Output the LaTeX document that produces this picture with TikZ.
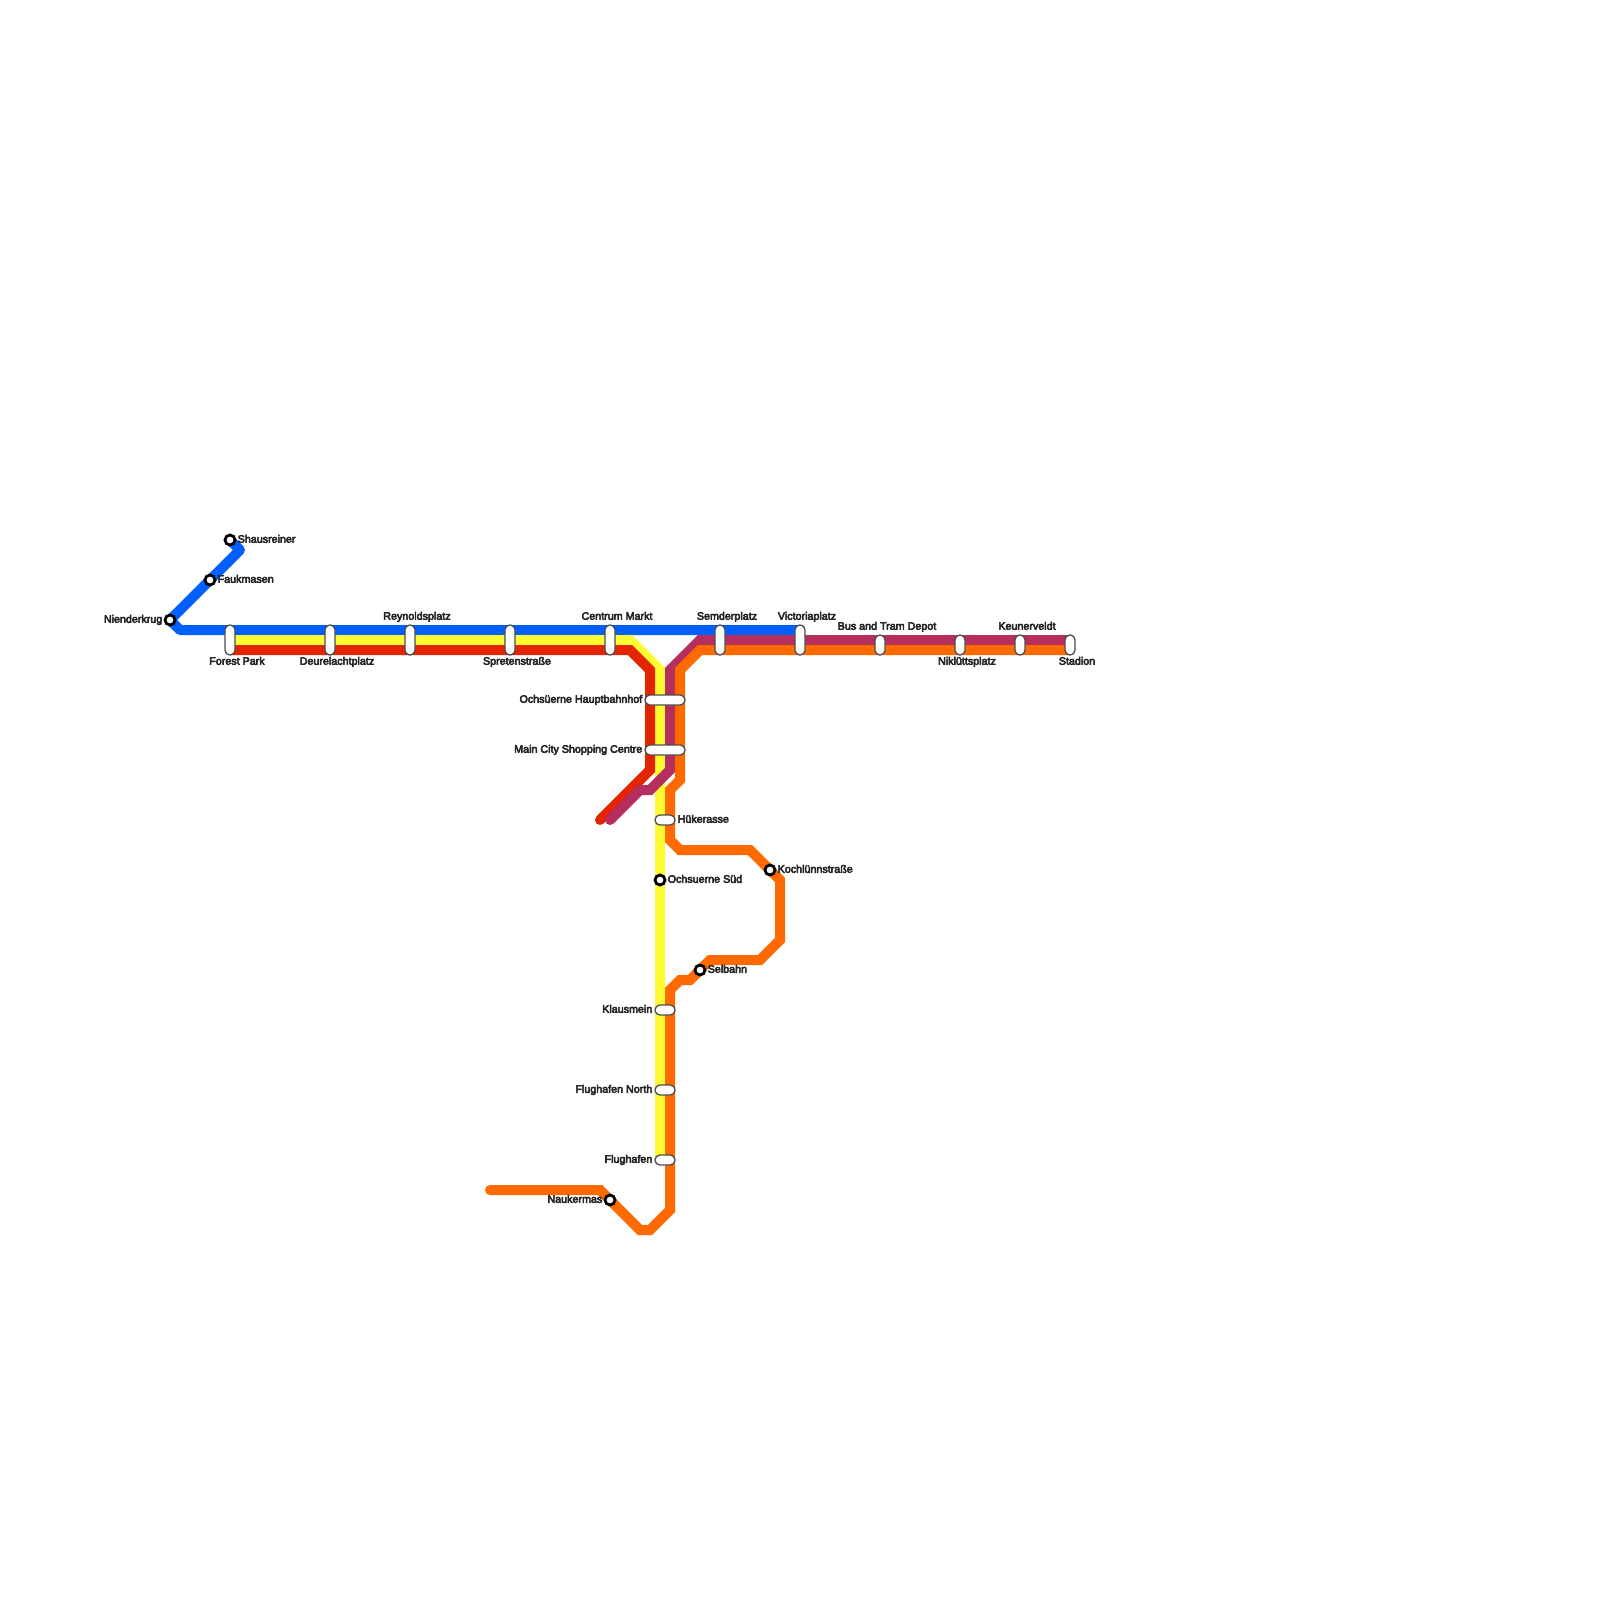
\documentclass[tikz,border=0pt]{standalone}
\usepackage{fontspec}
\newfontfamily\stopfont[FakeBold=5]{Liberation Sans}

\definecolor{blueline}{HTML}{005FFF}
\definecolor{yellowline}{HTML}{FFFB33}
\definecolor{redline}{HTML}{E32400}
\definecolor{purpleline}{HTML}{B52E5E}
\definecolor{orangeline}{HTML}{FF6A00}

\tikzset{
  railline/.style={line width=1mm, line cap=round, miter limit=10},
  pill/.style={draw=black!70, fill=white, line width=0.13mm, rounded corners=0.48mm, inner sep=0pt, outer sep=0pt},
  ring/.style={circle, draw=black, fill=white, line width=0.28mm, minimum size=1mm, inner sep=0pt, outer sep=0pt},
  stoptext/.style={font=\stopfont\fontsize{3.05}{3.6}\selectfont, text=black!85, inner sep=0pt, text height=2.2pt, text depth=0.65pt},
  toleft/.style={stoptext, anchor=east},
  toright/.style={stoptext, anchor=west}
}

\begin{document}
\begin{tikzpicture}[x=1mm, y=-1mm]
\useasboundingbox (0,0) rectangle (160,160);
% lines
\draw[railline, blueline, line join=round] (23,54) -- (24,55) -- (17,62) -- (18,63) -- (80,63);
\draw[railline, yellowline] (23,64) -- (63,64) -- (66,67) -- (66,116);
\draw[railline, redline] (23,65) -- (63,65) -- (65,67) -- (65,77) -- (60,82);
\draw[railline, purpleline] (107,64) -- (70,64) -- (67,67) -- (67,77) -- (65,79) -- (64,79) -- (61,82);
\draw[railline, orangeline] (107,65) -- (70,65) -- (68,67) -- (68,78) -- (67,79) -- (67,84) -- (68,85) -- (75,85)
   -- (78,88) -- (78,94) -- (76,96) -- (71,96) -- (69,98) -- (68,98) -- (67,99) -- (67,121)
   -- (65,123) -- (64,123) -- (60,119) -- (49,119);
% stops along the top
\node (forest) [pill, minimum width=1mm, minimum height=3mm] at (23,64) {};
\node (deurelacht) [pill, minimum width=1mm, minimum height=3mm] at (33,64) {};
\node (reynolds) [pill, minimum width=1mm, minimum height=3mm] at (41,64) {};
\node (spreten) [pill, minimum width=1mm, minimum height=3mm] at (51,64) {};
\node (centrum) [pill, minimum width=1mm, minimum height=3mm] at (61,64) {};
\node (semder) [pill, minimum width=1mm, minimum height=3mm] at (72,64) {};
\node (victoria) [pill, minimum width=1mm, minimum height=3mm] at (80,64) {};
\node (depot) [pill, minimum width=1mm, minimum height=2mm] at (88,64.5) {};
\node (niklutt) [pill, minimum width=1mm, minimum height=2mm] at (96,64.5) {};
\node (keuner) [pill, minimum width=1mm, minimum height=2mm] at (102,64.5) {};
\node (stadion) [pill, minimum width=1mm, minimum height=2mm] at (107,64.5) {};
% stops going down
\node (hauptbf) [pill, minimum width=4mm, minimum height=1mm] at (66.5,70) {};
\node (maincity) [pill, minimum width=4mm, minimum height=1mm] at (66.5,75) {};
\node (huke) [pill, minimum width=2mm, minimum height=1mm] at (66.5,82) {};
\node (klaus) [pill, minimum width=2mm, minimum height=1mm] at (66.5,101) {};
\node (flugnorth) [pill, minimum width=2mm, minimum height=1mm] at (66.5,109) {};
\node (flug) [pill, minimum width=2mm, minimum height=1mm] at (66.5,116) {};
% single stops
\node (shaus) [ring] at (23,54) {};
\node (fauk) [ring] at (21,58) {};
\node (nieder) [ring] at (17,62) {};
\node (ochsud) [ring] at (66,88) {};
\node (kochl) [ring] at (77,87) {};
\node (selbahn) [ring] at (70,97) {};
\node (nauker) [ring] at (61,120) {};
% names
\node (shaustext) [toright] at (23.7,54) {Shausreiner};
\node (fauktext) [toright] at (21.7,58) {Faukmasen};
\node (niedertext) [toleft] at (16.3,62) {Nienderkrug};
\node (foresttext) [stoptext] at (23.7,66.2) {Forest Park};
\node (deurelachttext) [stoptext] at (33.7,66.2) {Deurelachtplatz};
\node (reynoldstext) [stoptext] at (41.7,61.7) {Reynoldsplatz};
\node (spretentext) [stoptext] at (51.7,66.2) {Spretenstraße};
\node (centrumtext) [stoptext] at (61.7,61.7) {Centrum Markt};
\node (semdertext) [stoptext] at (72.7,61.7) {Semderplatz};
\node (victoriatext) [stoptext] at (80.7,61.7) {Victoriaplatz};
\node (depottext) [stoptext] at (88.7,62.7) {Bus and Tram Depot};
\node (nikluttext) [stoptext] at (96.7,66.2) {Niklüttsplatz};
\node (keunertext) [stoptext] at (102.7,62.7) {Keunerveldt};
\node (stadiontext) [stoptext] at (107.7,66.2) {Stadion};
\node (hauptbftext) [toleft] at (64.3,70) {Ochsüerne Hauptbahnhof};
\node (maincitytext) [toleft] at (64.3,75) {Main City Shopping Centre};
\node (huketext) [toright] at (67.7,82) {Hükerasse};
\node (ochsudtext) [toright] at (66.7,88) {Ochsuerne Süd};
\node (kochltext) [toright] at (77.7,87) {Kochlünnstraße};
\node (selbahntext) [toright] at (70.7,97) {Selbahn};
\node (klaustext) [toleft] at (65.3,101) {Klausmein};
\node (flugnorthtext) [toleft] at (65.3,109) {Flughafen North};
\node (flugtext) [toleft] at (65.3,116) {Flughafen};
\node (naukertext) [toleft] at (60.3,120) {Naukermas};
\end{tikzpicture}
\end{document}
